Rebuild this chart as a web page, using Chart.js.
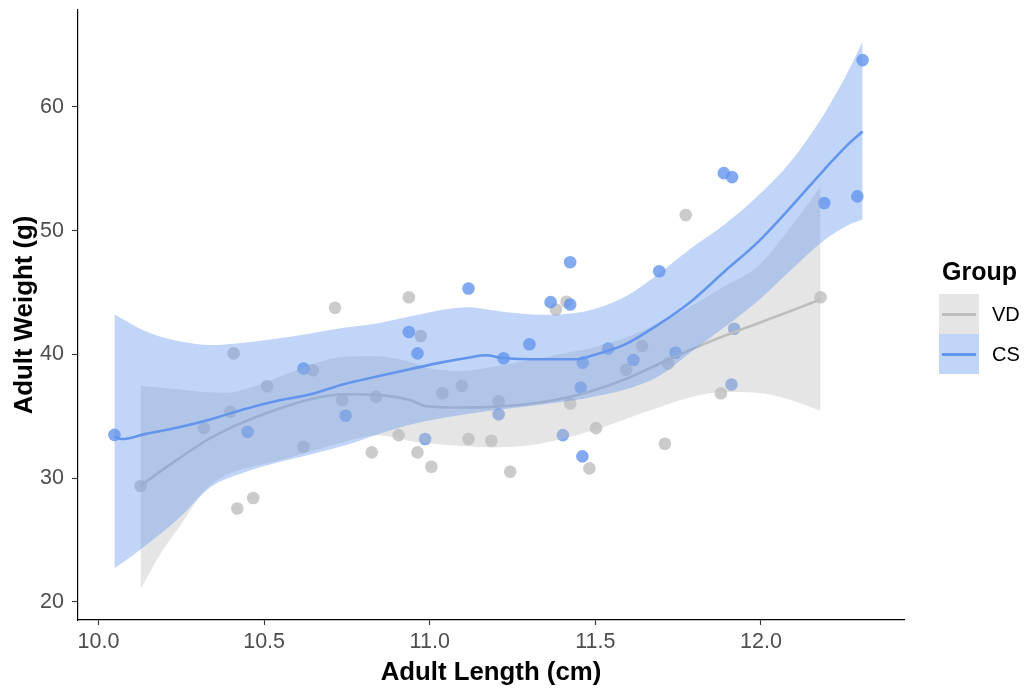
<!DOCTYPE html>
<html>
<head>
<meta charset="utf-8">
<script src="https://cdn.jsdelivr.net/npm/chart.js@4.4.1/dist/chart.umd.min.js"></script>
<style>
html,body{margin:0;padding:0;background:#fff;overflow:hidden}
#wrap{position:relative;width:1025px;height:688px}
#c{position:absolute;left:0;top:0;width:1025px;height:688px}
#legend{position:absolute;left:0;top:0;width:1025px;height:688px;pointer-events:none;font-family:"Liberation Sans",Arial,sans-serif}
.lt{position:absolute;left:942px;top:256px;font-size:25px;font-weight:bold;line-height:30px;color:#000}
.key{position:absolute;left:939px;width:40px;height:40px}
.kl{position:absolute;left:3px;top:18.5px;width:34px;height:3px}
.lab{position:absolute;left:992px;font-size:20px;line-height:40px;color:#000}
</style>
</head>
<body>
<div id="wrap">
<canvas id="c" width="1025" height="688"></canvas>
<div id="legend">
  <div class="lt">Group</div>
  <div class="key" style="top:294px;background:#e5e5e5"><div class="kl" style="background:#bebebe"></div></div>
  <div class="lab" style="top:294px">VD</div>
  <div class="key" style="top:334px;background:#c1d5f8"><div class="kl" style="background:#6495ed"></div></div>
  <div class="lab" style="top:334px">CS</div>
</div>
</div>
<script>
// ---- data ----
const groups = ['VD', 'CS'];
const xTicks = [10.0, 10.5, 11.0, 11.5, 12.0];
const yTicks = [20, 30, 40, 50, 60];

const vdX = [10.127,10.318,10.398,10.408,10.419,10.467,10.509,10.619,10.647,10.714,10.736,10.825,10.838,10.906,10.937,10.963,10.973,11.005,11.038,11.097,11.117,11.186,11.208,11.243,11.381,11.413,11.424,11.482,11.502,11.593,11.641,11.71,11.72,11.773,11.879,12.18];
const vdY = [29.35,34.03,35.35,40.08,27.53,28.39,37.42,32.53,38.71,43.77,36.29,32.07,36.56,33.47,44.62,32.07,41.48,30.91,36.85,37.45,33.15,33.01,36.21,30.51,43.63,44.25,36.02,30.78,34.03,38.74,40.67,32.77,39.25,51.26,36.85,44.62];

const csX = [10.048,10.45,10.619,10.746,10.937,10.963,10.986,11.117,11.208,11.223,11.301,11.365,11.402,11.424,11.424,11.456,11.461,11.462,11.539,11.615,11.693,11.742,11.888,11.911,11.913,11.919,12.191,12.291,12.307];
const csY = [33.49,33.73,38.85,35.03,41.80,40.08,33.15,45.32,35.16,39.68,40.81,44.22,33.47,47.44,44.03,37.31,31.75,39.33,40.46,39.54,46.72,40.13,54.65,37.56,54.33,42.07,52.23,52.77,63.79];

// smoothed fit and confidence band, VD
const vdFitX = [10.127,10.19,10.24,10.32,10.39,10.44,10.54,10.64,10.74,10.84,10.94,10.99,11.09,11.19,11.29,11.39,11.49,11.59,11.69,11.79,11.89,11.99,12.09,12.18];
const vdFit  = [29.38,30.6,31.53,32.95,33.95,34.55,35.56,36.37,36.77,36.72,36.3,35.8,35.7,35.75,35.97,36.37,37.04,37.98,39.2,40.4,41.5,42.5,43.5,44.44];
const vdLo   = [21.05,24.0,25.89,28.98,30.3,30.75,31.4,32.15,32.9,33.45,33.0,32.82,32.6,32.47,32.6,33.09,33.82,34.76,35.7,36.55,36.95,36.9,36.3,35.43];
const vdHi   = [37.45,37.3,37.18,36.95,36.9,37.15,38.1,39.15,39.8,39.85,39.4,38.92,38.65,39.0,39.46,40.0,40.54,41.35,42.5,43.9,45.5,47.1,50.3,53.57];

// smoothed fit and confidence band, CS
const csFitX = [10.048,10.07,10.14,10.24,10.34,10.44,10.54,10.64,10.74,10.84,10.94,11.04,11.12,11.17,11.22,11.34,11.44,11.49,11.59,11.69,11.79,11.89,11.99,12.09,12.19,12.26,12.307];
const csFit  = [33.35,33.15,33.55,34.09,34.76,35.56,36.24,36.77,37.58,38.2,38.8,39.37,39.75,39.92,39.7,39.6,39.6,39.9,40.8,42.4,44.3,46.7,49.05,51.9,54.9,56.9,58.01];
const csLo   = [22.72,23.1,24.5,26.69,29.3,30.45,31.25,31.9,32.6,33.5,34.3,34.85,35.2,35.4,35.55,35.95,36.3,36.55,37.15,38.2,40.2,42.2,44.3,46.8,49.2,50.4,50.9];
const csHi   = [43.23,42.9,41.88,41.07,40.75,40.94,41.27,41.69,42.15,42.5,43.05,43.6,43.8,43.65,43.45,43.2,43.35,43.6,44.65,46.5,48.6,50.5,52.8,55.6,59.4,62.7,65.3];

// ---- styling ----
const FONT = '"Liberation Sans", Arial, sans-serif';
const GRAY = '190,190,190';
const BLUE = '100,149,237';
const pts = (xs, ys) => xs.map((x, i) => ({x: x, y: ys[i]}));

const pointSet = (label, xs, ys, rgb, order) => ({
  label: label, data: pts(xs, ys), showLine: false,
  pointRadius: 6.3, pointHoverRadius: 6.3, pointBorderWidth: 0,
  pointBackgroundColor: 'rgba(' + rgb + ',0.8)', order: order
});
const edgeSet = (label, xs, ys, fillTarget, rgb, order) => ({
  label: label, data: pts(xs, ys), showLine: true,
  borderWidth: 0, borderColor: 'rgba(0,0,0,0)', pointRadius: 0, pointHoverRadius: 0,
  cubicInterpolationMode: 'monotone',
  fill: fillTarget === null ? false : fillTarget,
  backgroundColor: 'rgba(' + rgb + ',0.4)', order: order
});
const lineSet = (label, xs, ys, rgb, order) => ({
  label: label, data: pts(xs, ys), showLine: true,
  borderWidth: 2.6, borderColor: 'rgb(' + rgb + ')', pointRadius: 0, pointHoverRadius: 0,
  cubicInterpolationMode: 'monotone', fill: false, order: order
});

const datasets = [
  pointSet('VD points', vdX, vdY, GRAY, 10),          // 0
  pointSet('CS points', csX, csY, BLUE, 9),           // 1
  edgeSet('VD lower', vdFitX, vdLo, null, GRAY, 8),   // 2
  edgeSet('VD upper', vdFitX, vdHi, 2, GRAY, 8),      // 3
  lineSet('VD fit', vdFitX, vdFit, GRAY, 7),          // 4
  edgeSet('CS lower', csFitX, csLo, null, BLUE, 6),   // 5
  edgeSet('CS upper', csFitX, csHi, 5, BLUE, 6),      // 6
  lineSet('CS fit', csFitX, csFit, BLUE, 5)           // 7
];

const noPad = s => { s.paddingTop = 0; s.paddingBottom = 0; s.paddingLeft = 0; s.paddingRight = 0; };

new Chart(document.getElementById('c'), {
  type: 'scatter',
  data: {datasets: datasets},
  options: {
    responsive: false,
    animation: false,
    events: [],
    layout: {padding: {left: 0, right: 121, top: 10, bottom: 0}},
    plugins: {legend: {display: false}, tooltip: {enabled: false}},
    scales: {
      x: {
        type: 'linear', min: 9.938, max: 12.432,
        afterBuildTicks: s => { s.ticks = xTicks.map(v => ({value: v})); },
        afterFit: s => { s.height = 68; noPad(s); },
        ticks: {callback: v => Number(v).toFixed(1), font: {size: 21.5, family: FONT}, color: '#4d4d4d', padding: 4, maxRotation: 0, autoSkip: false},
        grid: {display: true, drawOnChartArea: false, drawTicks: true, tickLength: 5, tickColor: '#333333', tickWidth: 1.1},
        border: {display: true, color: '#000', width: 1.2},
        title: {display: true, text: 'Adult Length (cm)', color: '#000', font: {size: 25.8, weight: 'bold', family: FONT}, padding: {top: 3, bottom: 0}}
      },
      y: {
        type: 'linear', min: 18.52, max: 67.84,
        afterBuildTicks: s => { s.ticks = yTicks.map(v => ({value: v})); },
        afterFit: s => { s.width = 78; noPad(s); },
        ticks: {callback: v => String(v), font: {size: 21.5, family: FONT}, color: '#4d4d4d', padding: 8, autoSkip: false},
        grid: {display: true, drawOnChartArea: false, drawTicks: true, tickLength: 6, tickColor: '#333333', tickWidth: 1.1},
        border: {display: true, color: '#000', width: 1.2},
        title: {display: true, text: 'Adult Weight (g)', color: '#000', font: {size: 25.8, weight: 'bold', family: FONT}, padding: {top: 9, bottom: 0}}
      }
    }
  }
});
</script>
</body>
</html>
